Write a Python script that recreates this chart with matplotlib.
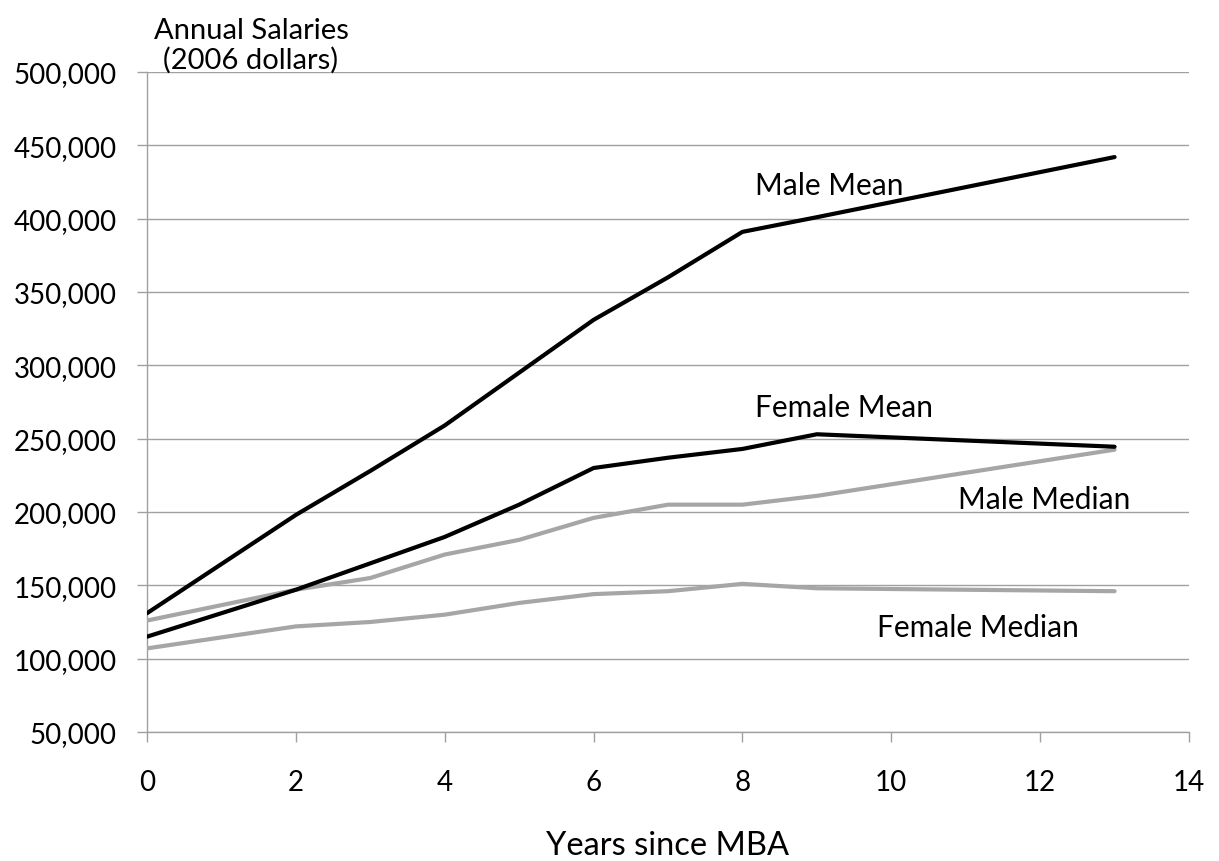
import numpy as np
import matplotlib
matplotlib.use("Agg")
import matplotlib.pyplot as plt
from matplotlib.ticker import FuncFormatter

plt.rcParams['font.family'] = ['Lato', 'DejaVu Sans']

years = [0, 2, 3, 4, 5, 6, 7, 8, 9, 13]
male_mean = [131000, 198000, 228000, 259000, 295000, 331000, 360000, 391000, 401000, 442000]
female_mean = [115000, 147000, 165000, 183000, 205000, 230000, 237000, 243000, 253000, 244500]
male_median = [126000, 147000, 155000, 171000, 181000, 196000, 205000, 205000, 211000, 242500]
female_median = [107000, 122000, 125000, 130000, 138000, 144000, 146000, 151000, 148000, 146000]

grey = '#a6a6a6'
axis_grey = '#a0a0a0'

fig = plt.figure(figsize=(12.19, 8.62), dpi=100)
ax = fig.add_axes([147 / 1219, 1 - 733 / 862, (1189 - 147) / 1219, (733 - 73) / 862])

ax.plot(years, male_mean, color='black', lw=3.0, solid_capstyle='round', zorder=4)
ax.plot(years, female_mean, color='black', lw=3.0, solid_capstyle='round', zorder=4)
ax.plot(years, male_median, color=grey, lw=3.0, solid_capstyle='round', zorder=3)
ax.plot(years, female_median, color=grey, lw=3.0, solid_capstyle='round', zorder=3)

ax.set_xlim(0, 14)
ax.set_ylim(50000, 500000)
ax.set_xticks(np.arange(0, 15, 2))
ax.set_yticks(np.arange(50000, 500001, 50000))
ax.yaxis.set_major_formatter(FuncFormatter(lambda v, p: f"{int(v):,}"))

ax.grid(axis='y', color=axis_grey, lw=1.0)
ax.set_axisbelow(True)
for s in ['top', 'right']:
    ax.spines[s].set_visible(False)
for s in ['left', 'bottom']:
    ax.spines[s].set_color(axis_grey)
    ax.spines[s].set_linewidth(1.0)
ax.tick_params(axis='x', colors=axis_grey, length=7, width=1, labelcolor='black',
               labelsize=20, pad=20)
ax.tick_params(axis='y', colors=axis_grey, length=7, width=1, labelcolor='black',
               labelsize=20, pad=15)

ax.set_xlabel('Years since MBA', fontsize=23.5, labelpad=25)

fig.text(251 / 1219, 1 - 46 / 862, 'Annual Salaries\n(2006 dollars)', ha='center', va='center',
         fontsize=21, linespacing=1.1)

ax.text(8.17, 423000, 'Male Mean', fontsize=21.5, va='center')
ax.text(8.17, 271600, 'Female Mean', fontsize=21.5, va='center')
ax.text(10.89, 209000, 'Male Median', fontsize=21.5, va='center')
ax.text(9.81, 121600, 'Female Median', fontsize=21.5, va='center')

fig.savefig('out.png', dpi=100)
